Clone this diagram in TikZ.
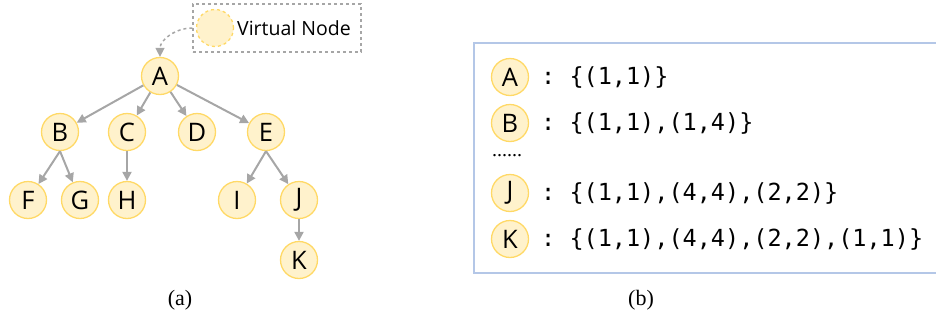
\documentclass[tikz,border=0pt]{standalone}
\usepackage{fontspec}
\setmainfont{Liberation Serif}
\newfontfamily\nodefont{Open Sans}
\newfontfamily\codefont{DejaVu Sans Mono}
\usetikzlibrary{arrows.meta}
\definecolor{nfill}{HTML}{FFF2CC}
\definecolor{nborder}{HTML}{FFD966}
\definecolor{edgegray}{HTML}{A6A6A6}
\definecolor{boxblue}{HTML}{B4C7E7}
\begin{document}
\begin{tikzpicture}[x=1pt,y=-1pt,
  tnode/.style={circle,draw=nborder,fill=nfill,line width=1.3pt,minimum size=37pt,inner sep=0pt,font=\nodefont\fontsize{25.5}{25.5}\selectfont},
  vnode/.style={tnode,dashed},
  edge/.style={draw=edgegray,line width=2pt,-{Triangle[length=9pt,width=9pt]}},
  code/.style={anchor=west,inner sep=0pt,font=\codefont\fontsize{23.5}{23.5}\selectfont},
  captext/.style={font=\fontsize{22}{22}\selectfont}]
\useasboundingbox (0,0) rectangle (936,322);
% (a) tree
\node[tnode] (A) at (160,76) {A};
\node[tnode] (B) at (60,132) {B};
\node[tnode] (C) at (127,132) {C};
\node[tnode] (D) at (197,132) {D};
\node[tnode] (E) at (266,132) {E};
\node[tnode] (F) at (28,200) {F};
\node[tnode] (G) at (80,200) {G};
\node[tnode] (H) at (127,200) {H};
\node[tnode] (I) at (237,200) {I};
\node[tnode] (J) at (299,200) {J};
\node[tnode] (K) at (299,260) {K};
\draw[edge] (A) -- (B);
\draw[edge] (A) -- (C);
\draw[edge] (A) -- (D);
\draw[edge] (A) -- (E);
\draw[edge] (B.south) -- (F);
\draw[edge] (B.south) -- (G);
\draw[edge] (C.south) -- (H);
\draw[edge] (E.south) -- (I);
\draw[edge] (E.south) -- (J);
\draw[edge] (J) -- (K);
% virtual node legend
\node[draw=edgegray,dashed,line width=1.3pt,minimum width=168pt,minimum height=48pt,inner sep=0pt] (vbox) at (277,28) {};
\node[vnode] (V) at (215,28) {};
\node[anchor=west,inner sep=0pt,font=\nodefont\fontsize{19.5}{19.5}\selectfont] (vtext) at (237,28) {Virtual Node};
\draw[draw=edgegray,dashed,line width=1.5pt,-{Triangle[length=9pt,width=9pt]}] (vbox.west) to[out=180,in=90] (A.north);
% (b) box
\draw[draw=boxblue,line width=2.5pt] (940,43) -- (474,43) -- (474,273) -- (940,273);
\node[tnode] (bA) at (510,77) {A};
\node[tnode] (bB) at (510,123) {B};
\node[tnode] (bJ) at (510,193) {J};
\node[tnode] (bK) at (510,239) {K};
\node[code] (tA) at (541,77) {:\ \{(1,1)\}};
\node[code] (tB) at (541,123) {:\ \{(1,1),(1,4)\}};
\node[code] (tJ) at (541,193) {:\ \{(1,1),(4,4),(2,2)\}};
\node[code] (tK) at (541,239) {:\ \{(1,1),(4,4),(2,2),(1,1)\}};
\node[anchor=west,inner sep=0pt,font=\fontsize{20}{20}\selectfont] (dots) at (492,156) {......};
% captions
\node[captext] (capa) at (180,300) {(a)};
\node[captext] (capb) at (641,300) {(b)};
\end{tikzpicture}
\end{document}
